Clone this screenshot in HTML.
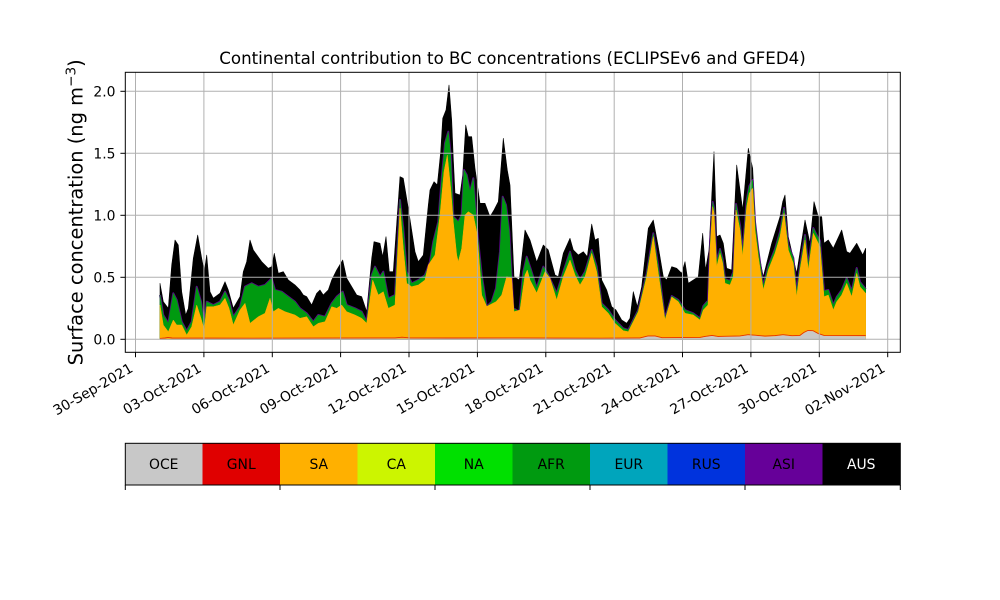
<!DOCTYPE html>
<html>
<head>
<meta charset="utf-8">
<style>
html,body{margin:0;padding:0;background:#ffffff;}
svg{display:block;font-family:"DejaVu Sans","Liberation Sans",sans-serif;}
</style>
</head>
<body>
<svg width="1000" height="600" viewBox="0 0 1000 600" xmlns="http://www.w3.org/2000/svg">
<rect x="0" y="0" width="1000" height="600" fill="#ffffff"/>

<!-- AUS (black) total -->
<polygon fill="#000000" stroke="#000000" stroke-width="0.6" stroke-linejoin="round" points="160,339.3 160,283.3 163.3,301.7 168.3,308.3 171.7,265 175,240 178.3,245 181.7,291.7 185.7,315 188.3,308.3 193.3,258.3 197.7,235 201.7,258.3 204.3,271.7 206.7,255 210,291.7 213.3,298.3 220,293.3 225,281.7 228.3,290 233.3,308.3 240,296.7 243.3,271.7 246.7,261.7 250,240 253.3,250 261.7,261.7 268.3,268.3 271.7,266.7 274.3,253.3 278.3,273.3 283.3,271.7 288.3,280 295,285 300,290 303.3,295 306.7,296.7 311.7,305 316.7,293.3 320,290 323.3,295 328.3,290 331.7,280 336.7,270 342.7,260 346.7,278.3 351.7,286.7 356.7,295 361.7,296.7 366.7,311.7 371.7,258.3 374,241.7 380,243.3 382.7,256.7 386,236.7 389.3,271.7 393.3,271.7 400,176.7 403.3,178.3 408.3,208.3 415,251.7 418.3,261.7 423.3,255 428.3,205 430,190 434,181.7 437.3,185 440.7,151.7 442.7,118.3 446,110 449,85 451.7,120 453.3,158.3 455,193.3 460,195 462.7,175 465.7,125 468.3,136.7 471.7,136.7 475,168.3 480,203.3 485,203.3 490,216.7 494,210 498.3,201.7 503.3,138.3 507.3,170 510,185 514,276.7 519.3,280 525,230 530,240 536.7,262 543.3,245 548.3,250 555,275 558.3,276.7 563.3,253.3 570,238.3 573.3,250 578.3,255 583.3,251.7 587.3,256.7 591.7,224 595,240 598.3,238.3 601.7,280 606.7,290 611.7,306.7 616,310 621.7,320 626.7,323.3 630,318.3 633.3,291.7 637.3,306.7 641.7,286.7 648.3,228.3 653.3,220 658.3,246.7 663.3,276.7 666.7,280 671.7,266.7 676.7,268.3 681.7,273.3 685,261.7 688.3,283.3 693.3,280 698.3,276.7 702.7,233.3 705.5,270 709,250 714,151.7 716.7,236.7 720,235 723.3,243.3 726.7,268.3 731.7,270 736.7,165 742.7,210 748.3,148.3 752.7,168.3 756,240 763.3,276.7 771.7,243.3 780,216.7 782.7,201.7 785,195 788.3,236.7 796.7,273.3 805,220 810,243.3 814,201.7 818.3,216.7 821.7,216.7 824,243.3 828.3,240 833.3,248.3 841.7,230 846.7,251.7 850,253.3 856.7,243.3 862.7,255 865.7,248.3 865.7,339.3"/>

<!-- ASI thin purple edge -->
<polyline fill="none" stroke="#5a0088" stroke-width="2" stroke-linejoin="round" points="160,295 163.3,315 168.3,323.3 173.3,293.3 176.7,300 181.7,321.7 186.7,331 191.7,321.7 196.7,286.7 201,301.7 204.3,325 206.7,301.7 213.3,305 220,301.7 225,291.7 229,300 233.3,316.7 240,306.7 245,286.7 251.7,283.3 258.3,286.7 265,285 271.7,278.3 275,290 281.7,291.7 288.3,296.7 295,301.7 300,308.3 306.7,313.3 313.3,321.7 318.3,315 325,316.7 331.7,303.3 336.7,296.7 342.7,291.7 346.7,305 355,308.3 361.7,311.7 366.7,321.7 371.7,275 375,266.7 380,276.7 383.3,271.7 388.3,298.3 395,295 400,200 403.3,228.3 406.7,271.7 411.7,283.3 418.3,280 425,275 430,261.7 433.3,241.7 438.3,221.7 441.7,178.3 445,143.3 448.3,131.7 450.7,155 453.3,216.7 458.3,221.7 461.7,215 464,170 466.7,175 470,191.7 473.3,178.3 477.3,231.7 481.7,275 486.7,306.7 491.7,301.7 496,288.3 500,251.7 502.7,196.7 506,205 509.3,231.7 513.3,308.3 519.3,311.7 523.3,271.7 526.7,256.7 530,266.7 536.7,288 543.3,266.7 548.3,275 556.7,293.3 563.3,271.7 570,251.7 575,270 580,280 585,271.7 591.7,250 596.7,266.7 601.7,303.3 608.3,310 615,320 623.3,328.3 628.3,330 633.3,320 638.3,310 646.7,273.3 653.3,233.3 658.3,266.7 665,318.3 671.7,296 678.3,300 685,310 693.3,313.3 700,318.3 703.3,306 706.7,302 708,301 710,246 712.7,202 714,208 716.7,262 720,249 722.7,259 725,279 730,281 733.3,272 736,204 740,225 742.7,252 746.7,200 749.3,186 752.7,180 755,222 758.3,250 763.3,286 768.3,266 775,249 780,232 784,208 788.3,245 793.3,258 796.7,292 800,266 805,235 808.3,265 813.3,228 816.7,235 820,241 824,291 828.3,290 833.3,305 836.7,297 841.7,290 846.7,278 851.7,291 856.7,268 860,282 865.7,289"/>

<!-- AFR (dark green) -->
<polygon fill="#009a10" stroke="#009a10" stroke-width="0.5" stroke-linejoin="round" points="160,339.3 160,295 163.3,315 168.3,323.3 173.3,293.3 176.7,300 181.7,321.7 186.7,331 191.7,321.7 196.7,286.7 201,301.7 204.3,325 206.7,301.7 213.3,305 220,301.7 225,291.7 229,300 233.3,316.7 240,306.7 245,286.7 251.7,283.3 258.3,286.7 265,285 271.7,278.3 275,290 281.7,291.7 288.3,296.7 295,301.7 300,308.3 306.7,313.3 313.3,321.7 318.3,315 325,316.7 331.7,303.3 336.7,296.7 342.7,291.7 346.7,305 355,308.3 361.7,311.7 366.7,321.7 371.7,275 375,266.7 380,276.7 383.3,271.7 388.3,298.3 395,295 400,200 403.3,228.3 406.7,271.7 411.7,283.3 418.3,280 425,275 430,261.7 433.3,241.7 438.3,221.7 441.7,178.3 445,143.3 448.3,131.7 450.7,155 453.3,216.7 458.3,221.7 461.7,215 464,170 466.7,175 470,191.7 473.3,178.3 477.3,231.7 481.7,275 486.7,306.7 491.7,301.7 496,288.3 500,251.7 502.7,196.7 506,205 509.3,231.7 513.3,308.3 519.3,311.7 523.3,271.7 526.7,256.7 530,266.7 536.7,288 543.3,266.7 548.3,275 556.7,293.3 563.3,271.7 570,251.7 575,270 580,280 585,271.7 591.7,250 596.7,266.7 601.7,303.3 608.3,310 615,320 623.3,328.3 628.3,330 633.3,320 638.3,310 646.7,273.3 653.3,233.3 658.3,266.7 665,318.3 671.7,296 678.3,300 685,310 693.3,313.3 700,318.3 703.3,306 706.7,302 708,301 710,246 712.7,202 714,208 716.7,262 720,249 722.7,259 725,279 730,281 733.3,272 736,204 740,225 742.7,252 746.7,200 749.3,186 752.7,180 755,222 758.3,250 763.3,286 768.3,266 775,249 780,232 784,208 788.3,245 793.3,258 796.7,292 800,266 805,235 808.3,265 813.3,228 816.7,235 820,241 824,291 828.3,290 833.3,305 836.7,297 841.7,290 846.7,278 851.7,291 856.7,268 860,282 865.7,289 865.7,339.3"/>

<!-- SA (orange) -->
<polygon fill="#ffb000" stroke="#ffb000" stroke-width="0.5" stroke-linejoin="round" points="160,339.3 160,305 163.3,325 168.3,331.7 173.3,320 176.7,325 181.7,325 186.7,335 191.7,326.7 196.7,305 201,318.3 204.3,330 206.7,306.7 213.3,306.7 220,305 225,298.3 229,308.3 233.3,325 240,310 245,303.3 250,323.3 258.3,316.7 265,313.3 270,298.3 273.3,311.7 278.3,308.3 285,311.7 295,315 300,318.3 306.7,316.7 313.3,326.7 318.3,323.3 325,321.7 331.7,306.7 336.7,308.3 341.7,305 346.7,311.7 355,315 361.7,318.3 366.7,323.3 372.7,280 378.3,295 383.3,291.7 388.3,308.3 395,305 400,208.3 403.3,248.3 406.7,283.3 411.7,286.7 418.3,285 425,280 428.3,265 435,255 440,215 444,171.7 447.3,155 450.7,188.3 453.3,221.7 456.7,255 458.3,261.7 461.7,248.3 465,215 468.3,211.7 473.3,215 477.3,235 481.7,295 486.7,306.5 496,301.7 501.7,295 506.7,276.7 511.7,278.3 514,311.7 520,310 525,275 527.3,270 530,280 536.7,293 545,271.7 550,278.3 556.7,300 563.3,276.7 570,260 575,275 580,285 585,276.7 591.7,253.3 596.7,271.7 601.7,306.7 608.3,313.3 615,323.3 623.3,330.7 628.3,331.7 633.3,321.7 638.3,311.7 646.7,276.7 653.3,236.7 658.3,273.3 665,320 671.7,297 678.3,301.7 685,313.3 693.3,315 700,320 703.3,310 708,305 710,250 712.7,206.7 714,213 716.7,266.7 720,253.3 722.7,263.3 725,283.3 730,285 733.3,276.7 736,210 740,230 742.7,256.7 746.7,206.7 749.3,193.3 752.7,188.3 755,230 758.3,256.7 763.3,290 768.3,270 775,253.3 780,236.7 784,213.3 788.3,250 793.3,263.3 796.7,296.7 800,270 805,240 808.3,270 813.3,233.3 816.7,240 820,246.7 824,296.7 828.3,295 833.3,310 836.7,301.7 841.7,295 846.7,283.3 851.7,296.7 856.7,273.3 860,286.7 865.7,293.3 865.7,339.3"/>

<!-- GNL (red thin) -->
<polyline fill="none" stroke="#e83000" stroke-width="0.9" points="160,338.4 165,338 168,337.4 172,338 250,338.2 300,338.1 395,337.9 402,337.2 410,337.9 450,338 520,337.9 600,338.2 640,337.9 648,335.9 655,335.9 662,337.7 700,337.4 705,336.4 712,335.4 718,336.4 740,335.9 748,334.7 755,335.2 765,336.1 775,335.6 783,334.7 792,335.7 800,335.4 804,332.4 808,330.4 813,330.7 818,333.4 824,335.4 865.7,335.6"/>

<!-- OCE (grey) -->
<polygon fill="#c8c8c8" points="160,339.6 160,339 250,338.9 300,338.8 400,338.6 450,338.6 520,338.5 600,338.8 640,338.5 648,336.5 655,336.5 662,338.3 700,338 705,337 712,336 718,337 740,336.5 748,335.3 755,335.8 765,336.7 775,336.2 783,335.3 792,336.3 800,336 804,333 808,331 813,331.3 818,334 824,336 865.7,336.2 865.7,339.6"/>

<!-- grid -->
<g stroke="#b0b0b0" stroke-width="1" fill="none">
<line x1="135.5" y1="72.3" x2="135.5" y2="352.3"/>
<line x1="203.9" y1="72.3" x2="203.9" y2="352.3"/>
<line x1="272.3" y1="72.3" x2="272.3" y2="352.3"/>
<line x1="340.6" y1="72.3" x2="340.6" y2="352.3"/>
<line x1="409" y1="72.3" x2="409" y2="352.3"/>
<line x1="477.4" y1="72.3" x2="477.4" y2="352.3"/>
<line x1="545.8" y1="72.3" x2="545.8" y2="352.3"/>
<line x1="614.2" y1="72.3" x2="614.2" y2="352.3"/>
<line x1="682.5" y1="72.3" x2="682.5" y2="352.3"/>
<line x1="750.9" y1="72.3" x2="750.9" y2="352.3"/>
<line x1="819.3" y1="72.3" x2="819.3" y2="352.3"/>
<line x1="887.7" y1="72.3" x2="887.7" y2="352.3"/>
<line x1="125.3" y1="339.3" x2="900.3" y2="339.3"/>
<line x1="125.3" y1="277.3" x2="900.3" y2="277.3"/>
<line x1="125.3" y1="215.3" x2="900.3" y2="215.3"/>
<line x1="125.3" y1="153.3" x2="900.3" y2="153.3"/>
<line x1="125.3" y1="91.3" x2="900.3" y2="91.3"/>
</g>

<!-- spines -->
<rect x="125.3" y="72.3" width="775" height="280" fill="none" stroke="#000000" stroke-width="1"/>

<!-- ticks -->
<g stroke="#000000" stroke-width="1">
<line x1="120.4" y1="339.3" x2="125.3" y2="339.3"/>
<line x1="120.4" y1="277.3" x2="125.3" y2="277.3"/>
<line x1="120.4" y1="215.3" x2="125.3" y2="215.3"/>
<line x1="120.4" y1="153.3" x2="125.3" y2="153.3"/>
<line x1="120.4" y1="91.3" x2="125.3" y2="91.3"/>
<line x1="135.5" y1="352.3" x2="135.5" y2="357.2"/>
<line x1="203.9" y1="352.3" x2="203.9" y2="357.2"/>
<line x1="272.3" y1="352.3" x2="272.3" y2="357.2"/>
<line x1="340.6" y1="352.3" x2="340.6" y2="357.2"/>
<line x1="409" y1="352.3" x2="409" y2="357.2"/>
<line x1="477.4" y1="352.3" x2="477.4" y2="357.2"/>
<line x1="545.8" y1="352.3" x2="545.8" y2="357.2"/>
<line x1="614.2" y1="352.3" x2="614.2" y2="357.2"/>
<line x1="682.5" y1="352.3" x2="682.5" y2="357.2"/>
<line x1="750.9" y1="352.3" x2="750.9" y2="357.2"/>
<line x1="819.3" y1="352.3" x2="819.3" y2="357.2"/>
<line x1="887.7" y1="352.3" x2="887.7" y2="357.2"/>
</g>

<!-- y tick labels -->
<g font-size="13.9" fill="#000000" text-anchor="end">
<text x="115.5" y="344.3">0.0</text>
<text x="115.5" y="282.3">0.5</text>
<text x="115.5" y="220.3">1.0</text>
<text x="115.5" y="158.3">1.5</text>
<text x="115.5" y="96.3">2.0</text>
</g>

<!-- x tick labels -->
<g font-size="13.9" fill="#000000" text-anchor="end">
<text x="133.9" y="371" transform="rotate(-30 133.9 371)">30-Sep-2021</text>
<text x="202.3" y="371" transform="rotate(-30 202.3 371)">03-Oct-2021</text>
<text x="270.7" y="371" transform="rotate(-30 270.7 371)">06-Oct-2021</text>
<text x="339" y="371" transform="rotate(-30 339 371)">09-Oct-2021</text>
<text x="407.4" y="371" transform="rotate(-30 407.4 371)">12-Oct-2021</text>
<text x="475.8" y="371" transform="rotate(-30 475.8 371)">15-Oct-2021</text>
<text x="544.2" y="371" transform="rotate(-30 544.2 371)">18-Oct-2021</text>
<text x="612.6" y="371" transform="rotate(-30 612.6 371)">21-Oct-2021</text>
<text x="680.9" y="371" transform="rotate(-30 680.9 371)">24-Oct-2021</text>
<text x="749.3" y="371" transform="rotate(-30 749.3 371)">27-Oct-2021</text>
<text x="817.7" y="371" transform="rotate(-30 817.7 371)">30-Oct-2021</text>
<text x="886.1" y="371" transform="rotate(-30 886.1 371)">02-Nov-2021</text>
</g>

<!-- y label -->
<text transform="translate(82.5,212.3) rotate(-90)" text-anchor="middle" font-size="19.44" fill="#000000">Surface concentration (ng m<tspan font-size="13.6" dy="-7">−3</tspan><tspan dy="7">)</tspan></text>

<!-- title -->
<text x="512.5" y="64" text-anchor="middle" font-size="16.67" fill="#000000">Continental contribution to BC concentrations (ECLIPSEv6 and GFED4)</text>

<!-- colorbar -->
<g>
<rect x="125" y="443.3" width="77.5" height="41.7" fill="#c8c8c8"/>
<rect x="202.5" y="443.3" width="77.5" height="41.7" fill="#e00000"/>
<rect x="280" y="443.3" width="77.5" height="41.7" fill="#ffb000"/>
<rect x="357.5" y="443.3" width="77.5" height="41.7" fill="#ccf500"/>
<rect x="435" y="443.3" width="77.5" height="41.7" fill="#00e000"/>
<rect x="512.5" y="443.3" width="77.5" height="41.7" fill="#009a10"/>
<rect x="590" y="443.3" width="77.5" height="41.7" fill="#00a5bc"/>
<rect x="667.5" y="443.3" width="77.5" height="41.7" fill="#0033dd"/>
<rect x="745" y="443.3" width="77.5" height="41.7" fill="#660099"/>
<rect x="822.5" y="443.3" width="77.5" height="41.7" fill="#000000"/>
<rect x="125.3" y="443.3" width="775" height="41.7" fill="none" stroke="#000000" stroke-width="1"/>
<g stroke="#000000" stroke-width="1">
<line x1="125.3" y1="485" x2="125.3" y2="490"/>
<line x1="280" y1="485" x2="280" y2="490"/>
<line x1="435" y1="485" x2="435" y2="490"/>
<line x1="590" y1="485" x2="590" y2="490"/>
<line x1="745" y1="485" x2="745" y2="490"/>
<line x1="900.3" y1="485" x2="900.3" y2="490"/>
</g>
<g font-size="13.9" text-anchor="middle" fill="#000000">
<text x="163.75" y="469">OCE</text>
<text x="241.25" y="469">GNL</text>
<text x="318.75" y="469">SA</text>
<text x="396.25" y="469">CA</text>
<text x="473.75" y="469">NA</text>
<text x="551.25" y="469">AFR</text>
<text x="628.75" y="469">EUR</text>
<text x="706.25" y="469">RUS</text>
<text x="783.75" y="469">ASI</text>
<text x="861.25" y="469" fill="#ffffff">AUS</text>
</g>
</g>
</svg>
</body>
</html>
